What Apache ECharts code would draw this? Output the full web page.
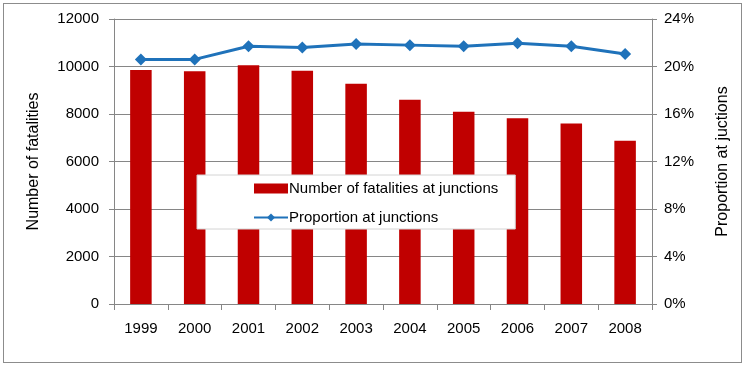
<!DOCTYPE html>
<html><head><meta charset="utf-8">
<script src="https://cdn.jsdelivr.net/npm/echarts@6/dist/echarts.min.js"></script>
<style>html,body{margin:0;padding:0;background:#fff}#c{width:747px;height:366px}
#frame{position:absolute;left:3px;top:3px;width:737px;height:358px;border:1px solid #8c8c8c;pointer-events:none}</style>
</head><body><div id="c"></div><div id="frame"></div>
<script>
const years = ['1999','2000','2001','2002','2003','2004','2005','2006','2007','2008'];
const fatalities = [9850, 9800, 10050, 9820, 9270, 8600, 8100, 7820, 7600, 6870];
const proportion = [20.6, 20.6, 21.7, 21.6, 21.9, 21.8, 21.7, 21.95, 21.7, 21.05];
const leftTicks = [0, 2000, 4000, 6000, 8000, 10000, 12000];
const rightTicks = [0, 4, 8, 12, 16, 20, 24];

const font = 'Liberation Sans, Arial, sans-serif';
const chart = echarts.init(document.getElementById('c'), null, {renderer:'canvas'});
chart.setOption({
  animation:false,
  textStyle:{fontFamily:font},
  grid:{left:114,right:95,top:19,bottom:62},
  legend:{
    orient:'vertical', left:197, top:175, width:330, height:80,
    backgroundColor:'#fff', borderColor:'#d4d4d4', borderWidth:1,
    padding:[6,17,4,56], itemGap:14, itemWidth:34, itemHeight:10,
    textStyle:{fontFamily:font,fontSize:15,color:'#000',padding:[0,0,0,-4]},
    data:[{name:'Number of fatalities at junctions',icon:'rect'},{name:'Proportion at junctions'}]
  },
  xAxis:{type:'category',data:years,
    axisLine:{lineStyle:{color:'#868686'}},
    axisTick:{show:true,length:6,lineStyle:{color:'#868686'}},
    axisLabel:{color:'#000',fontSize:15,margin:17,fontFamily:font}},
  yAxis:[
    {type:'value',min:0,max:12000,interval:2000,name:'Number of fatalities',nameLocation:'middle',nameGap:72,
     nameTextStyle:{fontSize:16,color:'#000',fontFamily:font},
     axisLine:{show:true,lineStyle:{color:'#868686'}},axisTick:{show:true,length:5,lineStyle:{color:'#868686'}},
     axisLabel:{color:'#000',fontSize:15,margin:15,fontFamily:font,formatter:v=>String(v)},
     splitLine:{lineStyle:{color:'#868686',width:1}}},
    {type:'value',min:0,max:24,interval:4,name:'Proportion at juctions',nameLocation:'middle',nameGap:63,nameRotate:90,
     nameTextStyle:{fontSize:16,color:'#000',fontFamily:font},
     axisLine:{show:true,lineStyle:{color:'#868686'}},axisTick:{show:true,length:5,lineStyle:{color:'#868686'}},
     axisLabel:{color:'#000',fontSize:15,margin:12,fontFamily:font,formatter:v=>v+'%'},
     splitLine:{show:false}}
  ],
  series:[
    {name:'Number of fatalities at junctions',type:'bar',data:fatalities,barWidth:'40%',
     itemStyle:{color:'#C00000'}},
    {name:'Proportion at junctions',type:'line',yAxisIndex:1,data:proportion,
     symbol:'diamond',symbolSize:12,lineStyle:{color:'#1F72BA',width:3},itemStyle:{color:'#1F72BA'}}
  ]
});
</script></body></html>
